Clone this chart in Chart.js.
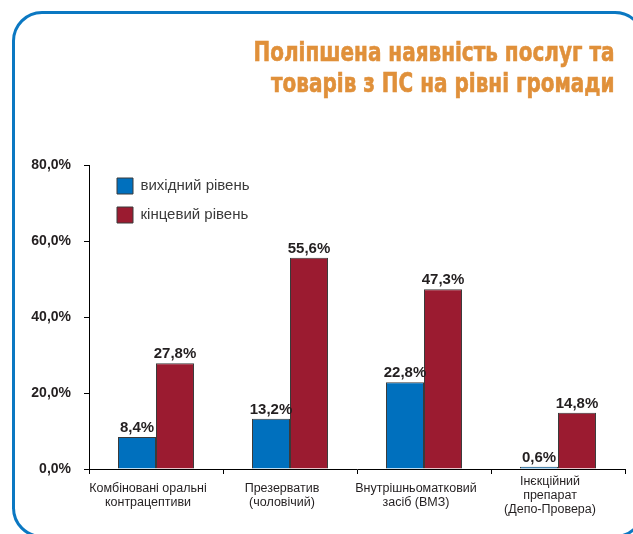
<!DOCTYPE html>
<html>
<head>
<meta charset="utf-8">
<script src="https://cdn.jsdelivr.net/npm/chart.js@4.4.1/dist/chart.umd.min.js"></script>
<style>
  html, body { margin: 0; padding: 0; background: #ffffff; }
  #wrap { position: relative; width: 633px; height: 534px; overflow: hidden; background: #fff; }
  #frame { position: absolute; left: 12px; top: 11px; width: 633px; height: 527px; box-sizing: border-box;
           border: 3px solid #0b78c2; border-radius: 30px; }
  #title { position: absolute; right: 19px; top: 36px; text-align: right; color: #e0903a;
           font-family: "Liberation Sans Narrow", "DejaVu Sans Condensed", "Liberation Sans", sans-serif;
           font-weight: bold; font-size: 27px; line-height: 31px; transform-origin: right top; white-space: nowrap;
           -webkit-text-stroke: 0.6px #e0903a; }
  #c { position: absolute; left: 0; top: 0; }
</style>
</head>
<body>
<div id="wrap">
  <div id="frame"></div>
  <canvas id="c" width="633" height="534"></canvas>
  <div id="title"><span id="t1">Поліпшена наявність послуг та</span><br><span id="t2">товарів з ПС на рівні громади</span></div>
</div>
<script>
const categories = [
  ["Комбіновані оральні", "контрацептиви"],
  ["Презерватив", "(чоловічий)"],
  ["Внутрішньоматковий", "засіб (ВМЗ)"],
  ["Інєкційний", "препарат", "(Депо-Провера)"]
];
const seriesNames = ["вихідний рівень", "кінцевий рівень"];
const baselineValues = [8.4, 13.2, 22.8, 0.6];
const finalValues = [27.8, 55.6, 47.3, 14.8];
const yTicks = [0, 20, 40, 60, 80];

// fit title width to the reference
(function(){
  const t = document.getElementById('title');
  const w = document.getElementById('t1').getBoundingClientRect().width;
  const target = 361;
  if (w > 0) t.style.transform = 'scaleX(' + (target / w) + ')';
})();

const fmt = v => v.toFixed(1).replace('.', ',') + '%';

const valueLabels = {
  id: 'valueLabels',
  afterDatasetsDraw(chart) {
    const ctx = chart.ctx;
    ctx.save();
    ctx.font = 'bold 15px "Liberation Sans", Arial, sans-serif';
    ctx.fillStyle = '#231f20';
    ctx.textAlign = 'center';
    ctx.textBaseline = 'alphabetic';
    chart.data.datasets.forEach((ds, di) => {
      const meta = chart.getDatasetMeta(di);
      meta.data.forEach((bar, i) => {
        ctx.fillText(fmt(ds.data[i]), bar.x, bar.y - 5);
      });
    });
    ctx.restore();
  }
};

const legendShift = {
  id: 'legendShift',
  afterLayout(chart) {
    const lg = chart.legend;
    if (lg) {
      const w = lg.right - lg.left, h = lg.bottom - lg.top;
      lg.left = chart.chartArea.left + 15;
      lg.right = lg.left + w;
      lg.top = chart.chartArea.top;
      lg.bottom = lg.top + h;
    }
  }
};

new Chart(document.getElementById('c'), {
  type: 'bar',
  data: {
    labels: categories,
    datasets: [
      { label: seriesNames[0], data: baselineValues, backgroundColor: '#0070be', borderColor: '#3a3a3a', borderWidth: 1,
        categoryPercentage: 0.567, barPercentage: 1 },
      { label: seriesNames[1], data: finalValues, backgroundColor: '#9b1b30', borderColor: '#3a3a3a', borderWidth: 1,
        categoryPercentage: 0.567, barPercentage: 1 }
    ]
  },
  options: {
    responsive: false,
    animation: false,
    devicePixelRatio: 1,
    layout: { padding: { left: 0, right: 8, top: 165, bottom: 0 } },
    plugins: {
      title: { display: false },
      tooltip: { enabled: false },
      legend: {
        position: 'chartArea',
        align: 'start',
        labels: {
          boxWidth: 16, boxHeight: 16, padding: 13,
          color: '#3a3a3a',
          font: { family: '"Liberation Sans", Arial, sans-serif', size: 15 }
        }
      }
    },
    scales: {
      x: {
        afterFit(scale) { scale.height = 65; },
        grid: { display: true, drawOnChartArea: false, drawTicks: true, tickLength: 5, offset: true, color: '#000', lineWidth: 1 },
        border: { display: true, color: '#000', width: 1 },
        ticks: {
          color: '#231f20', padding: 8, crossAlign: 'center', maxRotation: 0, autoSkip: false, labelOffset: -8,
          font: { family: '"Liberation Sans", Arial, sans-serif', size: 12.5, lineHeight: 1.12 }
        }
      },
      y: {
        min: 0, max: 80,
        afterFit(scale) { scale.width = 89; },
        afterBuildTicks(scale) { scale.ticks = yTicks.map(v => ({ value: v })); },
        grid: { display: true, drawOnChartArea: false, drawTicks: true, tickLength: 5, color: '#000', lineWidth: 1 },
        border: { display: true, color: '#000', width: 1 },
        ticks: {
          color: '#231f20', padding: 13,
          font: { family: '"Liberation Sans", Arial, sans-serif', size: 14, weight: 'bold' },
          callback: v => fmt(v)
        }
      }
    }
  },
  plugins: [valueLabels, legendShift]
});
</script>
</body>
</html>
